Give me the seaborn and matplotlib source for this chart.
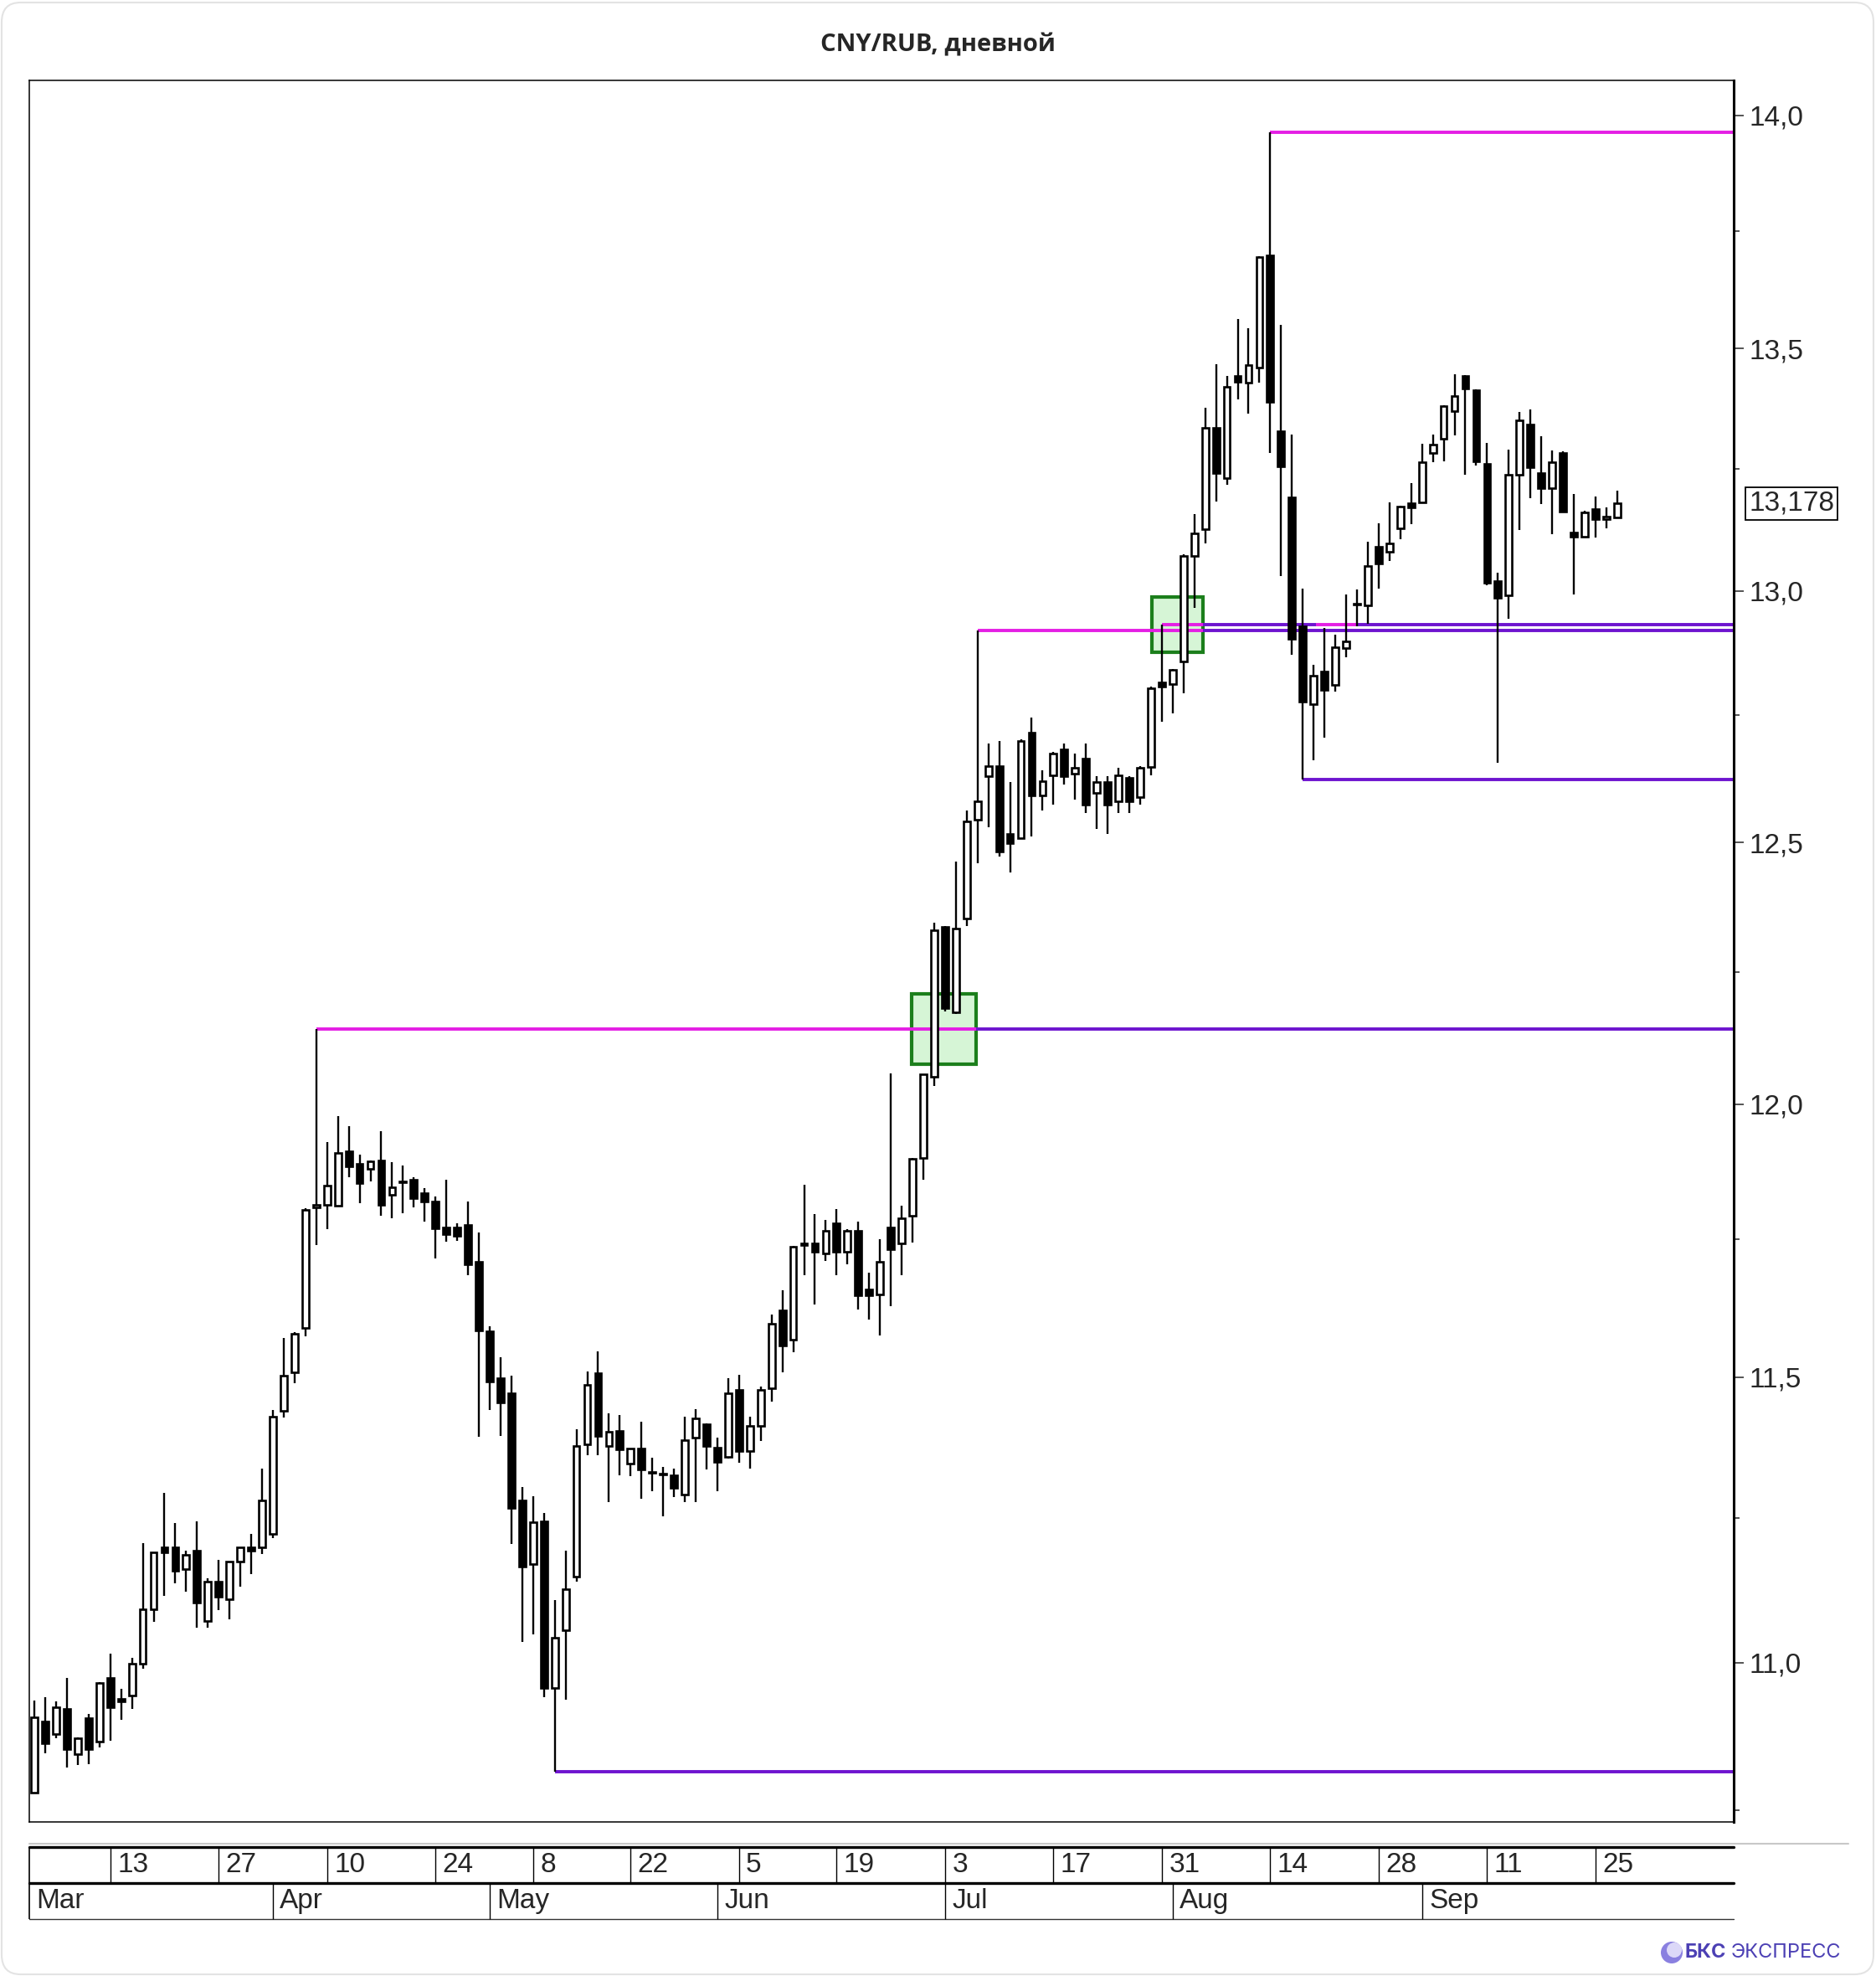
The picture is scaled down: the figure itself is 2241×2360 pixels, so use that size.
import numpy as np
import pandas as pd
import seaborn as sns
import matplotlib.pyplot as plt
from matplotlib.lines import Line2D
from matplotlib.patches import Rectangle, FancyBboxPatch, Ellipse
from matplotlib.ticker import FixedLocator, FuncFormatter, NullFormatter

sns.set_style("white")
plt.rcParams["font.family"] = ["Liberation Sans", "DejaVu Sans"]

# MOEX trading calendar, 2023
holidays = ["2023-03-08", "2023-05-01", "2023-05-09", "2023-06-12"]
dates = pd.bdate_range("2023-03-01", "2023-09-27")
dates = dates[~dates.isin(pd.to_datetime(holidays))]

opens = [10.779, 10.900, 10.878, 10.921, 10.844, 10.905, 10.865, 10.974, 10.938, 10.943,
         10.998, 11.091, 11.199, 11.200, 11.161, 11.193, 11.071, 11.139, 11.109, 11.174,
         11.199, 11.200, 11.223, 11.440, 11.509, 11.589, 11.808, 11.813, 11.812, 11.912,
         11.889, 11.880, 11.896, 11.832, 11.855, 11.859, 11.835, 11.819, 11.772, 11.772,
         11.776, 11.709, 11.583, 11.499, 11.471, 11.282, 11.170, 11.245, 10.956, 11.056,
         11.148, 11.381, 11.507, 11.378, 11.404, 11.346, 11.373, 11.332, 11.328, 11.325,
         11.292, 11.393, 11.416, 11.375, 11.359, 11.478, 11.369, 11.413, 11.480, 11.620,
         11.568, 11.740, 11.742, 11.724, 11.780, 11.728, 11.765, 11.658, 11.649, 11.772,
         11.742, 11.794, 11.900, 12.052, 12.336, 12.173, 12.352, 12.545, 12.629, 12.650,
         12.516, 12.509, 12.716, 12.592, 12.632, 12.683, 12.635, 12.665, 12.596, 12.618,
         12.581, 12.626, 12.588, 12.648, 12.815, 12.813, 12.857, 13.070, 13.126, 13.335,
         13.230, 13.443, 13.429, 13.461, 13.698, 13.327, 13.191, 12.928, 12.773, 12.837,
         12.811, 12.885, 12.972, 12.971, 13.089, 13.080, 13.128, 13.178, 13.180, 13.283,
         13.311, 13.369, 13.443, 13.413, 13.260, 13.020, 12.990, 13.238, 13.342, 13.241,
         13.209, 13.283, 13.118, 13.110, 13.167, 13.146, 13.150]
highs = [10.935, 10.940, 10.934, 10.974, 10.873, 10.912, 10.967, 11.015, 10.955, 11.008,
         11.206, 11.190, 11.295, 11.242, 11.193, 11.245, 11.146, 11.177, 11.175, 11.199,
         11.223, 11.337, 11.442, 11.570, 11.581, 11.807, 12.141, 11.929, 11.978, 11.959,
         11.906, 11.896, 11.950, 11.892, 11.886, 11.865, 11.844, 11.829, 11.859, 11.780,
         11.819, 11.763, 11.592, 11.536, 11.503, 11.305, 11.289, 11.260, 11.107, 11.193,
         11.407, 11.510, 11.547, 11.436, 11.433, 11.373, 11.420, 11.357, 11.341, 11.338,
         11.430, 11.443, 11.418, 11.392, 11.498, 11.504, 11.430, 11.484, 11.613, 11.657,
         11.738, 11.850, 11.797, 11.786, 11.806, 11.769, 11.782, 11.689, 11.750, 12.058,
         11.812, 11.900, 12.056, 12.344, 12.338, 12.463, 12.562, 12.920, 12.694, 12.699,
         12.618, 12.703, 12.746, 12.641, 12.677, 12.694, 12.675, 12.694, 12.629, 12.630,
         12.646, 12.630, 12.650, 12.807, 12.931, 12.842, 13.074, 13.156, 13.377, 13.467,
         13.443, 13.562, 13.543, 13.696, 13.963, 13.551, 13.320, 13.005, 12.851, 12.925,
         12.911, 12.992, 13.003, 13.100, 13.137, 13.180, 13.173, 13.220, 13.302, 13.321,
         13.382, 13.447, 13.445, 13.415, 13.303, 13.036, 13.290, 13.367, 13.373, 13.317,
         13.287, 13.285, 13.198, 13.163, 13.192, 13.170, 13.205]
lows = [10.779, 10.846, 10.871, 10.821, 10.825, 10.827, 10.855, 10.867, 10.902, 10.921,
        10.990, 11.070, 11.115, 11.137, 11.122, 11.060, 11.060, 11.090, 11.074, 11.131,
        11.153, 11.188, 11.215, 11.428, 11.489, 11.574, 11.739, 11.768, 11.810, 11.865,
        11.817, 11.857, 11.794, 11.788, 11.798, 11.808, 11.782, 11.715, 11.745, 11.748,
        11.685, 11.394, 11.441, 11.396, 11.205, 11.035, 11.049, 10.940, 10.815, 10.937,
        11.140, 11.361, 11.361, 11.278, 11.326, 11.324, 11.285, 11.297, 11.253, 11.288,
        11.278, 11.278, 11.336, 11.297, 11.355, 11.348, 11.338, 11.386, 11.456, 11.509,
        11.545, 11.685, 11.631, 11.710, 11.685, 11.704, 11.622, 11.604, 11.575, 11.628,
        11.685, 11.744, 11.859, 12.034, 12.175, 12.170, 12.338, 12.459, 12.530, 12.473,
        12.441, 12.507, 12.511, 12.562, 12.573, 12.613, 12.584, 12.558, 12.526, 12.516,
        12.558, 12.558, 12.573, 12.631, 12.738, 12.754, 12.794, 12.966, 13.096, 13.182,
        13.216, 13.394, 13.364, 13.429, 13.283, 13.030, 12.871, 12.623, 12.661, 12.705,
        12.798, 12.866, 12.929, 12.933, 13.004, 13.061, 13.105, 13.135, 13.178, 13.263,
        13.265, 13.318, 13.237, 13.257, 13.012, 12.656, 12.944, 13.123, 13.189, 13.177,
        13.116, 13.161, 12.993, 13.108, 13.108, 13.128, 13.148]
closes = [10.906, 10.862, 10.924, 10.852, 10.871, 10.852, 10.965, 10.923, 10.933, 10.998,
          11.091, 11.190, 11.190, 11.159, 11.186, 11.103, 11.139, 11.113, 11.174, 11.199,
          11.193, 11.282, 11.430, 11.503, 11.579, 11.804, 11.813, 11.849, 11.909, 11.885,
          11.854, 11.894, 11.814, 11.846, 11.857, 11.826, 11.819, 11.771, 11.759, 11.756,
          11.705, 11.585, 11.493, 11.455, 11.268, 11.166, 11.243, 10.956, 11.043, 11.126,
          11.378, 11.487, 11.396, 11.403, 11.371, 11.373, 11.336, 11.330, 11.327, 11.304,
          11.388, 11.426, 11.377, 11.349, 11.471, 11.368, 11.413, 11.477, 11.596, 11.557,
          11.736, 11.742, 11.727, 11.765, 11.727, 11.765, 11.648, 11.648, 11.709, 11.732,
          11.788, 11.898, 12.056, 12.330, 12.181, 12.334, 12.541, 12.581, 12.650, 12.483,
          12.499, 12.699, 12.592, 12.620, 12.675, 12.629, 12.646, 12.573, 12.618, 12.573,
          12.632, 12.581, 12.646, 12.804, 12.808, 12.840, 13.070, 13.117, 13.335, 13.241,
          13.420, 13.430, 13.465, 13.694, 13.389, 13.255, 12.903, 12.777, 12.829, 12.801,
          12.886, 12.898, 12.974, 13.051, 13.056, 13.096, 13.171, 13.170, 13.264, 13.300,
          13.379, 13.401, 13.416, 13.265, 13.017, 12.986, 13.238, 13.350, 13.252, 13.209,
          13.264, 13.161, 13.110, 13.160, 13.146, 13.152, 13.178]

last_price = 13.178

# horizontal levels: start date, price, colour runs (end position of each run)
levels = [
    ("2023-04-07", 12.141, [(86.9, "magenta"), (None, "purple")]),
    ("2023-05-11", 10.815, [(None, "purple")]),
    ("2023-07-06", 12.920, [(107.8, "magenta"), (None, "purple")]),
    ("2023-07-31", 12.931, [(107.8, "magenta"), (118.2, "purple"), (122.1, "magenta"), (None, "purple")]),
    ("2023-08-14", 13.963, [(None, "magenta")]),
    ("2023-08-17", 12.623, [(None, "purple")]),
]
# green breakout boxes: x0, x1 (bar index), price low, price high
boxes = [(80.9, 86.9, 12.075, 12.208), (103.1, 107.8, 12.876, 12.987)]

day_labels = ["2023-03-13", "2023-03-27", "2023-04-10", "2023-04-24", "2023-05-08",
              "2023-05-22", "2023-06-05", "2023-06-19", "2023-07-03", "2023-07-17",
              "2023-07-31", "2023-08-14", "2023-08-28", "2023-09-11", "2023-09-25"]
month_starts = ["2023-03-01", "2023-04-03", "2023-05-02", "2023-06-01", "2023-07-03",
                "2023-08-01", "2023-09-01"]

df = pd.DataFrame({"date": dates, "open": opens, "high": highs, "low": lows, "close": closes})
df["x"] = np.arange(len(df))
pos = {d: i for i, d in enumerate(df["date"].dt.strftime("%Y-%m-%d"))}

colors = {"magenta": "#e41ee4", "purple": "#6e14cf"}
W, H = 2241, 2360
XMIN, XMAX = -0.5, 156.75

fig = plt.figure(figsize=(W / 100, H / 100), dpi=100)
fig.patch.set_facecolor("white")
fig.add_artist(FancyBboxPatch((2 / W, 2 / H), 1 - 5 / W, 1 - 5 / H,
                              boxstyle="round,pad=0,rounding_size=0.01",
                              transform=fig.transFigure, fc="none", ec="#e3e3e3", lw=1.5))

left, right = 34.6 / W, 2071 / W
ax = fig.add_axes([left, 1 - 2176 / H, right - left, (2176 - 96.3) / H])
ax.set_facecolor("none")

# boxes
for x0, x1, y0, y1 in boxes:
    ax.add_patch(Rectangle((x0, y0), x1 - x0, y1 - y0, fc="#d6f5d6", ec="#1c7f1c", lw=3.0, zorder=1))

# levels
for start, price, runs in levels:
    x = pos[start]
    for end, c in runs:
        xe = XMAX if end is None else end
        ax.hlines(price, x, xe, color=colors[c], lw=2.8, zorder=2)
        x = xe

# candles
up = df["close"] >= df["open"]
ax.vlines(df["x"], df["low"], df["high"], color="black", lw=1.7, zorder=3)
body_lo = np.minimum(df["open"], df["close"])
body_h = np.maximum(np.abs(df["close"] - df["open"]), 0.001)
ax.bar(df["x"], body_h, bottom=body_lo, width=0.6,
       color=np.where(up, "white", "black"), edgecolor="black", linewidth=1.9, zorder=4)

ax.set_yscale("log")
ax.set_ylim(10.73, 14.076)
ax.set_xlim(XMIN, XMAX)
ax.set_xticks([])
ax.yaxis.set_major_locator(FixedLocator([11.0, 11.5, 12.0, 12.5, 13.0, 13.5, 14.0]))
ax.yaxis.set_minor_locator(FixedLocator([10.75, 11.25, 11.75, 12.25, 12.75, 13.25, 13.75]))
ax.yaxis.set_major_formatter(FuncFormatter(lambda v, p: f"{v:.1f}".replace(".", ",")))
ax.yaxis.set_minor_formatter(NullFormatter())
ax.yaxis.tick_right()
ax.tick_params(axis="y", which="major", length=8.5, width=1.1, direction="out", labelsize=24, pad=5)
ax.tick_params(axis="y", which="minor", length=5, width=1.1, direction="out")
for s in ax.spines.values():
    s.set_visible(True)
    s.set_color("black")
    s.set_linewidth(1.1)
ax.spines["right"].set_linewidth(2.2)

ax.annotate(f"{last_price:.3f}".replace(".", ","), xy=(1, last_price),
            xycoords=("axes fraction", "data"), xytext=(13, 0), textcoords="offset points",
            ha="left", va="center", fontsize=24,
            bbox=dict(boxstyle="square,pad=0.12", fc="white", ec="black", lw=1.3))

# date axis
ax2 = fig.add_axes([left, 1 - 2292 / H, right - left, (2292 - 2205.7) / H])
ax2.set_xlim(XMIN, XMAX)
ax2.set_ylim(0, 1)
ax2.axis("off")
ax2.axhline(1, color="black", lw=2.4, clip_on=False)
ax2.axhline(0.5, color="black", lw=2.4, clip_on=False)
ax2.axhline(0, color="#333333", lw=1.0, clip_on=False)
ax2.vlines([XMIN], 0, 1, color="black", lw=1.2, clip_on=False)
for d in day_labels:
    x = pos[d]
    ax2.vlines(x, 0.5, 1, color="black", lw=1.0, clip_on=False)
    ax2.annotate(str(int(d[-2:])), xy=(x, 0.75), xycoords=("data", "axes fraction"),
                 xytext=(6, 0), textcoords="offset points", ha="left", va="center", fontsize=24)
for d in month_starts:
    x = pos[d]
    if x > 0:
        ax2.vlines(x, 0, 0.5, color="black", lw=1.0, clip_on=False)
    else:
        x = XMIN
    ax2.annotate(pd.Timestamp(d).strftime("%b"), xy=(x, 0.25), xycoords=("data", "axes fraction"),
                 xytext=(6, 0), textcoords="offset points", ha="left", va="center", fontsize=24)

fig.add_artist(Line2D([35 / W, 2208 / W], [1 - 2202 / H] * 2, color="#c8c8c8", lw=1.5))

fig.text(0.5, 1 - 54 / H, "CNY/RUB, дневной", ha="center", va="center",
         fontsize=21, fontweight="bold", family=["Open Sans", "DejaVu Sans"])

# logo
fig.add_artist(Ellipse((1997 / W, 1 - 2332 / H), 26 / W, 26 / H, fc="#8a80e0", ec="none"))
fig.add_artist(Ellipse((2000 / W, 1 - 2329 / H), 18 / W, 18 / H, fc="#dcd8f8", ec="none"))
fig.text(2012 / W, 1 - 2332 / H, "БКС", ha="left", va="center", fontsize=17,
         fontweight="bold", color="#4c40b4", family=["Inter", "DejaVu Sans"])
fig.text(2068 / W, 1 - 2332 / H, "ЭКСПРЕСС", ha="left", va="center", fontsize=17,
         color="#4c40b4", family=["Inter", "DejaVu Sans"])

fig.savefig("out.png", dpi=100, facecolor="white")
